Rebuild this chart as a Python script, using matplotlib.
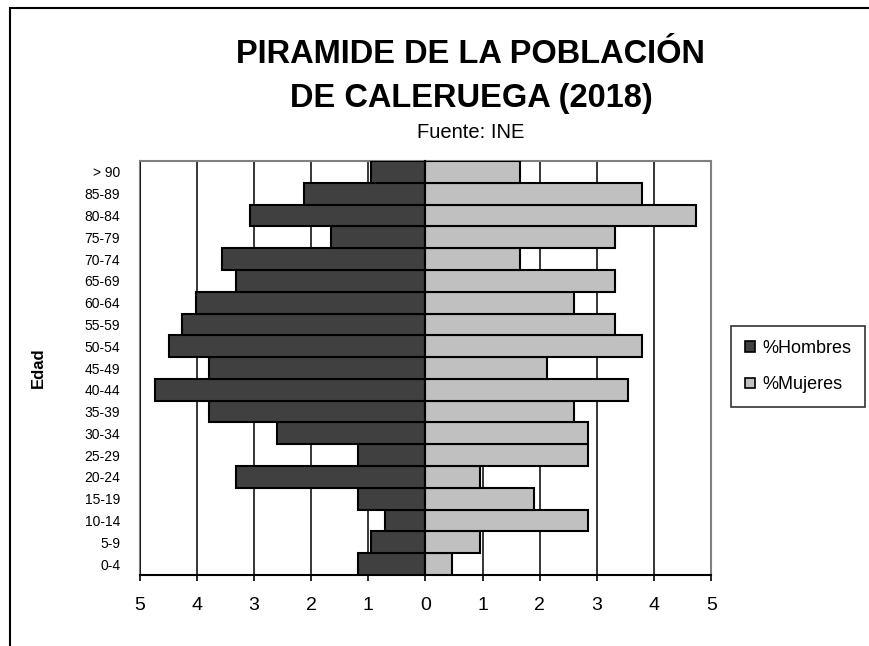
import matplotlib
matplotlib.use("Agg")
import matplotlib.pyplot as plt
from matplotlib.patches import Patch, Rectangle
import numpy as np

plt.rcParams['font.family'] = ['Liberation Sans', 'DejaVu Sans']

age_groups = ["0-4", "5-9", "10-14", "15-19", "20-24", "25-29", "30-34", "35-39",
              "40-44", "45-49", "50-54", "55-59", "60-64", "65-69", "70-74",
              "75-79", "80-84", "85-89", "> 90"]
hombres = [1.18, 0.95, 0.71, 1.18, 3.31, 1.18, 2.60, 3.78, 4.73, 3.78,
           4.49, 4.26, 4.02, 3.31, 3.55, 1.65, 3.07, 2.13, 0.95]
mujeres = [0.47, 0.95, 2.84, 1.89, 0.95, 2.84, 2.84, 2.60, 3.55, 2.13,
           3.78, 3.31, 2.60, 3.31, 1.65, 3.31, 4.73, 3.78, 1.65]
xticks = [-5, -4, -3, -2, -1, 0, 1, 2, 3, 4, 5]
xticklabels = ["5", "4", "3", "2", "1", "0", "1", "2", "3", "4", "5"]

W, H = 870, 646
fig = plt.figure(figsize=(W / 100, H / 100), dpi=100)
ax = fig.add_axes([139.6 / W, 1 - 575 / H, (711.3 - 139.6) / W, (575 - 161) / H])

y = np.arange(len(age_groups))
ax.barh(y, [-v for v in hombres], height=1.0, color="#404040", edgecolor="black",
        linewidth=1.5, label="%Hombres", zorder=3)
ax.barh(y, mujeres, height=1.0, color="#c0c0c0", edgecolor="black",
        linewidth=1.5, label="%Mujeres", zorder=3)

ax.set_xlim(-5, 5)
ax.set_ylim(-0.5, len(age_groups) - 0.5)
ax.set_xticks(xticks)
ax.set_xticklabels(xticklabels, fontsize=14)
ax.tick_params(axis='x', length=4.5, width=1.2, pad=11, direction='out')
ax.xaxis.grid(True, color="black", linewidth=1.1, zorder=0)
ax.set_axisbelow(True)

# category axis at x = 0
ax.spines['left'].set_position(('data', 0))
ax.spines['left'].set_linewidth(1.5)
ax.spines['left'].set_zorder(5)
ax.set_yticks(y)
ax.tick_params(axis='y', length=3.5, width=1.2, labelleft=False, direction='out')

sec = ax.secondary_yaxis('left')
sec.set_yticks(y)
sec.set_yticklabels(age_groups, fontsize=10)
sec.tick_params(length=0, pad=14)
sec.spines['left'].set_color("#808080")
sec.spines['left'].set_linewidth(1.5)
sec.set_ylabel("Edad", fontsize=12, fontweight='bold', labelpad=28)

for s in ['top', 'right']:
    ax.spines[s].set_color("#808080")
    ax.spines[s].set_linewidth(1.5)
ax.spines['bottom'].set_linewidth(1.5)

fig.text(471 / W, 1 - 63 / H, "PIRAMIDE DE LA POBLACIÓN", ha='center', va='baseline',
         fontsize=23.5, fontweight='bold')
fig.text(471 / W, 1 - 106.5 / H, "DE CALERUEGA (2018)", ha='center', va='baseline',
         fontsize=23.5, fontweight='bold')
fig.text(471 / W, 1 - 137.7 / H, "Fuente: INE", ha='center', va='baseline', fontsize=14.5)

handles = [Patch(facecolor="#404040", edgecolor="black", linewidth=1.2),
           Patch(facecolor="#c0c0c0", edgecolor="black", linewidth=1.2)]
leg = fig.legend(handles, ["%Hombres", "%Mujeres"], loc='center',
                 bbox_to_anchor=(798 / W, 1 - 366.5 / H), fontsize=13,
                 frameon=True, fancybox=False, edgecolor="black",
                 handlelength=0.55, handleheight=0.55, handletextpad=0.4,
                 labelspacing=1.1, borderpad=0.75, borderaxespad=0)
leg.get_frame().set_linewidth(1.2)

fig.patches.append(Rectangle((10 / W, -0.1), 1.2, 1 - 8 / H + 0.1, transform=fig.transFigure,
                             fill=False, edgecolor="black", linewidth=1.5))

fig.savefig("out.png", dpi=100)
